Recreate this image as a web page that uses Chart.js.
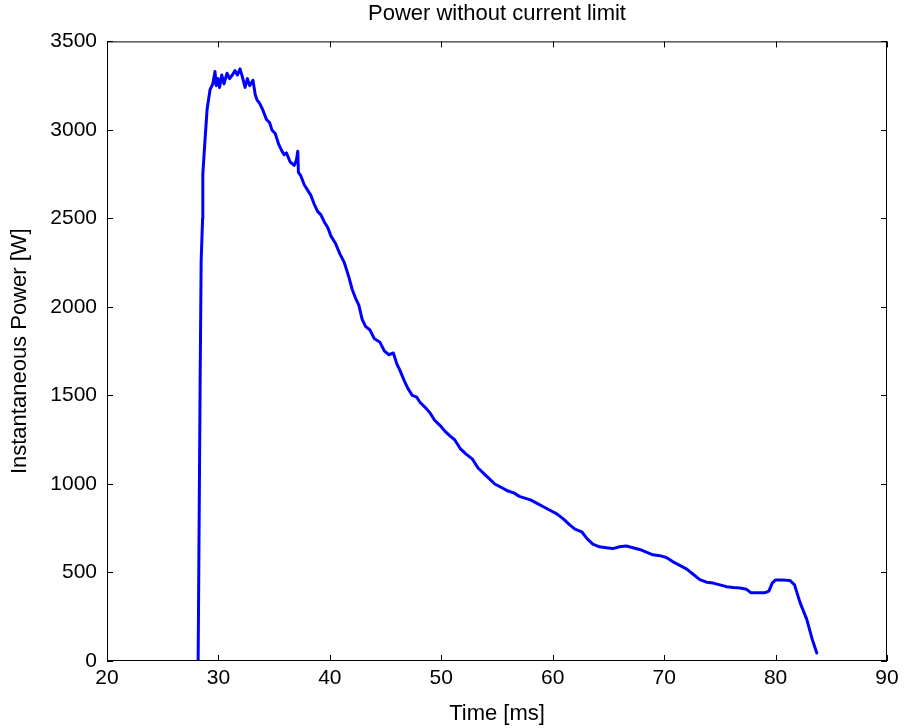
<!DOCTYPE html>
<html>
<head>
<meta charset="utf-8">
<script src="https://cdn.jsdelivr.net/npm/chart.js@4/dist/chart.umd.min.js"></script>
<style>
  html, body { margin: 0; padding: 0; background: #fff; }
  #wrap { width: 905px; height: 728px; }
</style>
</head>
<body>
<div id="wrap"><canvas id="powerChart" width="905" height="728"></canvas></div>
<script>
// Time axis values [ms]
const timeMs = [
  28.18, 28.36, 28.45, 28.58, 28.6, 28.75, 28.98, 29.25, 29.5, 29.69,
  29.8, 29.96, 30.1, 30.3, 30.5, 30.77, 31.0, 31.25, 31.49, 31.7,
  31.94, 32.15, 32.39, 32.6, 32.8, 33.1, 33.3, 33.46, 33.7, 34.0,
  34.3, 34.6, 34.8, 35.1, 35.4, 35.7, 35.9, 36.1, 36.43, 36.8,
  37.0, 37.12, 37.18, 37.4, 37.7, 38.0, 38.3, 38.6, 38.9, 39.2,
  39.5, 39.8, 40.1, 40.5, 40.9, 41.3, 41.7, 42.0, 42.3, 42.6,
  42.9, 43.2, 43.6, 44.0, 44.5, 44.9, 45.3, 45.7, 46.0, 46.3,
  46.7, 47.0, 47.4, 47.8, 48.1, 48.6, 49.0, 49.4, 49.9, 50.3,
  50.8, 51.2, 51.7, 52.2, 52.8, 53.3, 53.8, 54.3, 54.8, 55.4,
  56.0, 56.5, 57.0, 57.5, 58.0, 58.6, 59.2, 59.8, 60.4, 61.0,
  61.5, 62.0, 62.6, 63.1, 63.6, 64.2, 64.8, 65.4, 66.0, 66.6,
  67.2, 67.8, 68.4, 69.0, 69.6, 70.2, 70.8, 71.4, 72.0, 72.6,
  73.2, 73.8, 74.4, 75.0, 75.6, 76.2, 76.8, 77.4, 77.8, 78.4,
  79.0, 79.4, 79.7, 80.0, 80.6, 81.3, 81.7, 82.2, 82.8, 83.3,
  83.7
];

// Instantaneous power [W]
const powerW = [
  0, 1587, 2260, 2500, 2750, 2900, 3115, 3228, 3260, 3330,
  3250, 3290, 3240, 3310, 3260, 3320, 3290, 3310, 3335, 3310,
  3345, 3300, 3240, 3290, 3250, 3280, 3200, 3170, 3150, 3110,
  3060, 3040, 3000, 2980, 2920, 2880, 2860, 2870, 2820, 2800,
  2830, 2880, 2760, 2740, 2690, 2660, 2630, 2580, 2540, 2520,
  2480, 2450, 2400, 2360, 2300, 2250, 2170, 2100, 2050, 2010,
  1930, 1890, 1870, 1820, 1800, 1750, 1730, 1740, 1680, 1640,
  1580, 1540, 1500, 1490, 1460, 1430, 1400, 1360, 1330, 1300,
  1270, 1250, 1200, 1170, 1140, 1090, 1060, 1030, 1000, 980,
  960, 950, 930, 920, 910, 890, 870, 850, 830, 800,
  770, 745, 730, 690, 660, 645, 640, 635, 645, 650,
  640, 630, 615, 600, 595, 585, 560, 540, 520, 490,
  460, 445, 440, 430, 420, 415, 412, 405, 385, 385,
  385, 395, 440, 458, 458, 455, 430, 330, 235, 120,
  45
];

const xTicks = [20, 30, 40, 50, 60, 70, 80, 90];
const yTicks = [0, 500, 1000, 1500, 2000, 2500, 3000, 3500];

const FONT = '"Liberation Sans", Arial, sans-serif';

// Matlab style box with inward ticks on all sides
const boxTicks = {
  id: 'boxTicks',
  afterDraw(chart) {
    const ctx = chart.ctx;
    const a = chart.chartArea;
    const xs = chart.scales.x, ys = chart.scales.y;
    const len = 6;
    ctx.save();
    ctx.strokeStyle = '#000';
    ctx.lineWidth = 1;
    ctx.strokeRect(a.left + 0.5, a.top + 0.5, a.right - a.left - 1, a.bottom - a.top - 1);
    ctx.beginPath();
    xTicks.forEach(v => {
      const px = Math.round(xs.getPixelForValue(v)) + 0.5;
      ctx.moveTo(px, a.bottom); ctx.lineTo(px, a.bottom - len);
      ctx.moveTo(px, a.top); ctx.lineTo(px, a.top + len);
    });
    yTicks.forEach(v => {
      const py = Math.round(ys.getPixelForValue(v)) + 0.5;
      ctx.moveTo(a.left, py); ctx.lineTo(a.left + len, py);
      ctx.moveTo(a.right, py); ctx.lineTo(a.right - len, py);
    });
    ctx.stroke();
    ctx.restore();
  }
};

const points = timeMs.map((t, i) => ({ x: t, y: powerW[i] }));

new Chart(document.getElementById('powerChart'), {
  type: 'line',
  data: {
    datasets: [{
      data: points,
      borderColor: '#0000ff',
      borderWidth: 3,
      borderJoinStyle: 'round',
      borderCapStyle: 'round',
      pointRadius: 0,
      tension: 0,
      fill: false
    }]
  },
  options: {
    responsive: false,
    animation: false,
    layout: { padding: { left: 0, right: 18, top: 0, bottom: 0 } },
    plugins: {
      legend: { display: false },
      tooltip: { enabled: false },
      title: {
        display: true,
        text: 'Power without current limit',
        fullSize: false,
        color: '#000',
        font: { family: FONT, size: 22, weight: 'normal' },
        padding: { top: 1, bottom: 14 }
      }
    },
    scales: {
      x: {
        type: 'linear',
        min: 20, max: 90,
        afterFit(scale) { scale.height = 67; },
        afterBuildTicks(scale) { scale.ticks = xTicks.map(v => ({ value: v })); },
        grid: { display: false, drawTicks: false },
        border: { display: false },
        ticks: {
          color: '#000', font: { family: FONT, size: 21 }, padding: 5, maxRotation: 0,
          callback: v => String(v)
        },
        title: {
          display: true, text: 'Time [ms]', color: '#000',
          font: { family: FONT, size: 22 }, padding: { top: 0, bottom: 1 }
        }
      },
      y: {
        min: 0, max: 3500,
        afterFit(scale) { scale.width = 107; },
        afterBuildTicks(scale) { scale.ticks = yTicks.map(v => ({ value: v })); },
        grid: { display: false, drawTicks: false },
        border: { display: false },
        ticks: {
          color: '#000', font: { family: FONT, size: 21 }, padding: 10,
          callback: v => String(v)
        },
        title: {
          display: true, text: 'Instantaneous Power [W]', color: '#000',
          font: { family: FONT, size: 22 }, padding: { top: 7, bottom: 0 }
        }
      }
    }
  },
  plugins: [boxTicks]
});
</script>
</body>
</html>
